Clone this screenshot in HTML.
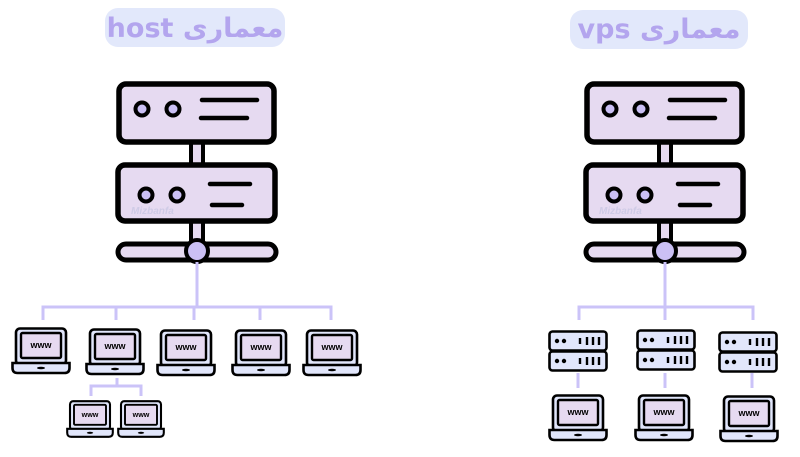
<!DOCTYPE html>
<html><head><meta charset="utf-8"><style>
html,body{margin:0;padding:0;background:#fff;width:800px;height:457px;overflow:hidden}
svg{display:block}
</style></head><body>
<svg width="800" height="457" viewBox="0 0 800 457" xmlns="http://www.w3.org/2000/svg">
<defs>
<g id="lap">
<rect x="5" y="1.5" width="50" height="36" rx="4" fill="#e1e6fb" stroke="#000" stroke-width="2.6"/>
<rect x="10" y="6" width="40" height="25" rx="1.5" fill="#e6daf1" stroke="#000" stroke-width="2.4"/>
<path d="M1.5 36 H58.5 V41 Q58.5 46 53.5 46 H6.5 Q1.5 46 1.5 41 Z" fill="#e1e6fb" stroke="#000" stroke-width="2.6"/>
<ellipse cx="30" cy="41" rx="4" ry="1.3" fill="#000"/>
<text x="30" y="21" font-family="Liberation Sans, sans-serif" font-size="9" font-weight="bold" text-anchor="middle" fill="#000">www</text>
</g>
<g id="srv">
<rect x="1.5" y="1.5" width="57" height="19" rx="3" fill="#e1e6fb" stroke="#000" stroke-width="2.6"/>
<rect x="1.5" y="21.5" width="57" height="19" rx="3" fill="#e1e6fb" stroke="#000" stroke-width="2.6"/>
<g fill="#000"><circle cx="9" cy="11" r="2.2"/><circle cx="16" cy="11" r="2.2"/><circle cx="9" cy="31" r="2.2"/><circle cx="16" cy="31" r="2.2"/></g>
<g stroke="#000" stroke-width="2.4"><path d="M32 8v6M39 7v8M45 7v8M51 7v8M32 28v6M39 27v8M45 27v8M51 27v8"/></g>
</g>
<g id="big">
<rect x="1" y="244" width="158" height="16" rx="8" fill="#e6daf1" stroke="#000" stroke-width="5"/>
<rect x="74" y="140" width="12" height="110" fill="#e6daf1" stroke="#000" stroke-width="4"/>
<rect x="2" y="84" width="155" height="58" rx="7" fill="#e6daf1" stroke="#000" stroke-width="5.5"/>
<rect x="1" y="165" width="157" height="56" rx="7" fill="#e6daf1" stroke="#000" stroke-width="5.5"/>
<circle cx="25" cy="109" r="6.5" fill="#cbc0f5" stroke="#000" stroke-width="4"/>
<circle cx="56" cy="109" r="6.5" fill="#cbc0f5" stroke="#000" stroke-width="4"/>
<circle cx="29" cy="195" r="6.5" fill="#cbc0f5" stroke="#000" stroke-width="4"/>
<circle cx="60" cy="195" r="6.5" fill="#cbc0f5" stroke="#000" stroke-width="4"/>
<g stroke="#000" stroke-width="4.5" stroke-linecap="round"><path d="M85 100H140M84 118H130M93 184H133M95 205H125"/></g>
<circle cx="80" cy="251" r="11" fill="#cbc0f5" stroke="#000" stroke-width="4"/>
<text x="14" y="214" font-family="Liberation Sans, sans-serif" font-size="10" font-style="italic" font-weight="bold" fill="#cfcbe6">Mizbanfa</text>
</g>
</defs>
<rect x="105" y="8" width="180" height="39" rx="13" fill="#e2e8fb"/>
<text x="195" y="37" font-family="'DejaVu Sans', sans-serif" font-size="27" font-weight="bold" text-anchor="middle" fill="#b3a5ee">host معماری</text>
<rect x="570" y="10" width="178" height="39" rx="13" fill="#e2e8fb"/>
<text x="659" y="38" font-family="'DejaVu Sans', sans-serif" font-size="27" font-weight="bold" text-anchor="middle" fill="#b3a5ee">vps معماری</text>
<use href="#big" x="117" y="0"/>
<use href="#big" x="585" y="0"/>
<g stroke="#cbc3f8" stroke-width="3" fill="none">
<path d="M197 262V307M43 320V307H331V320M116 307V320M194 307V320M260 307V320"/>
<path d="M117 378V386M91 396V386H141V396"/>
<path d="M665 262V307M579 320V307H753V320M665 307V320"/>
<path d="M578 373V388M665 373V388M752 373V388"/>
</g>
<use href="#lap" x="11" y="327"/>
<use href="#lap" x="85" y="328"/>
<use href="#lap" x="156" y="329"/>
<use href="#lap" x="231" y="329"/>
<use href="#lap" x="302" y="329"/>
<g transform="translate(66,400) scale(0.8)"><use href="#lap"/></g>
<g transform="translate(117,400) scale(0.8)"><use href="#lap"/></g>
<use href="#srv" x="548" y="330"/>
<use href="#srv" x="636" y="329"/>
<use href="#srv" x="718" y="331"/>
<use href="#lap" x="548" y="394"/>
<use href="#lap" x="634" y="394"/>
<use href="#lap" x="719" y="395"/>
</svg>
</body></html>
